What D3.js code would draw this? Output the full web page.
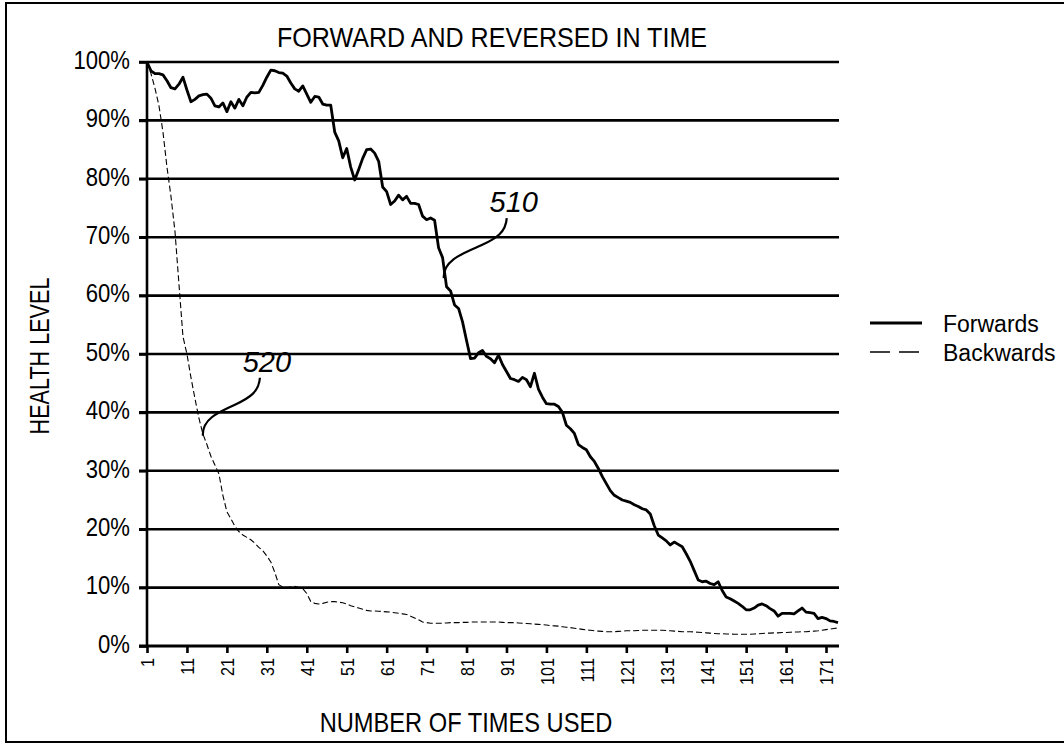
<!DOCTYPE html>
<html>
<head>
<meta charset="utf-8">
<title>Forward and reversed in time</title>
<script src="https://cdn.jsdelivr.net/npm/d3@7"></script>
<style>
  body { margin: 0; background: #fff; }
  svg text { font-family: "Liberation Sans", Arial, sans-serif; fill: #000; }
</style>
</head>
<body>
<svg id="chart" width="1064" height="746"></svg>
<script>
// health level (%) per use, uses 1..174
var forwards = [
  100, 98.5, 98.0, 98.0, 97.8, 96.8, 95.6, 95.4, 96.2, 97.4,
  95.2, 93.2, 93.6, 94.2, 94.4, 94.5, 93.8, 92.5, 92.3, 93.0,
  91.5, 93.2, 92.1, 93.6, 92.5, 94.0, 94.8, 94.7, 94.8, 96.0,
  97.4, 98.6, 98.5, 98.2, 98.1, 97.6, 96.4, 95.4, 95.0, 95.9,
  94.5, 93.1, 94.1, 94.0, 92.8, 92.6, 92.6, 88.0, 86.5, 83.6,
  85.2, 82.0, 79.8, 81.6, 83.5, 85.0, 85.1, 84.4, 83.0, 78.6,
  77.8, 75.6, 76.2, 77.2, 76.4, 77.0, 75.8, 75.8, 75.6, 73.6,
  73.0, 73.3, 72.9, 68.2, 66.5, 61.5, 60.8, 58.4, 57.8, 55.5,
  52.3, 49.2, 49.3, 50.2, 50.6, 49.6, 49.2, 48.5, 49.8, 48.2,
  47.0, 45.8, 45.6, 45.3, 46.0, 45.6, 44.4, 46.7, 44.0, 42.6,
  41.5, 41.4, 41.4, 41.0, 40.0, 37.8, 37.2, 36.4, 34.5, 34.0,
  33.6, 32.4, 31.6, 30.4, 29.0, 27.8, 26.6, 25.8, 25.4, 25.0,
  24.8, 24.6, 24.2, 23.9, 23.5, 23.3, 22.6, 20.6, 19.0, 18.5,
  18.0, 17.3, 17.8, 17.4, 17.0, 15.8, 14.5, 12.9, 11.3, 11.0,
  11.1, 10.7, 10.5, 11.0, 9.5, 8.4, 8.1, 7.7, 7.3, 6.8,
  6.2, 6.2, 6.5, 7.0, 7.2, 6.9, 6.4, 6.0, 5.1, 5.6,
  5.6, 5.6, 5.5, 6.0, 6.5, 5.8, 5.7, 5.6, 4.7, 4.9,
  4.7, 4.3, 4.2, 4.0
];

var backwards = [
  100, 98, 95.5, 92.5, 88, 82, 77, 71, 62, 53,
  50, 46, 42.4, 39, 36.3, 34.5, 32.5, 31, 29.5, 25.8,
  23, 21.8, 20.5, 19.6, 19, 18.6, 18.2, 17.6, 16.9, 16.3,
  15.4, 14.4, 12.6, 10.5, 10.1, 10.0, 10.1, 10.2, 10.0, 9.8,
  9.0, 7.6, 7.3, 7.2, 7.3, 7.5, 7.6, 7.6, 7.5, 7.4,
  7.2, 6.9, 6.7, 6.5, 6.3, 6.1, 6.0, 6.0, 5.95, 5.9,
  5.85, 5.8, 5.7, 5.6, 5.5, 5.4, 5.1, 4.8, 4.5, 4.1,
  4.0, 3.9, 3.9, 3.9, 3.9, 3.95, 4.0, 4.0, 4.0, 4.05,
  4.05, 4.1, 4.1, 4.1, 4.1, 4.1, 4.1, 4.1, 4.1, 4.05,
  4.0, 4.0, 4.0, 3.95, 3.9, 3.85, 3.8, 3.75, 3.7, 3.65,
  3.6, 3.5, 3.45, 3.4, 3.3, 3.2, 3.15, 3.05, 2.95, 2.85,
  2.75, 2.7, 2.6, 2.55, 2.5, 2.45, 2.45, 2.45, 2.5, 2.55,
  2.6, 2.6, 2.6, 2.65, 2.7, 2.7, 2.7, 2.7, 2.7, 2.7,
  2.65, 2.6, 2.55, 2.5, 2.45, 2.45, 2.45, 2.4, 2.35, 2.3,
  2.25, 2.2, 2.15, 2.1, 2.1, 2.05, 2.05, 2.0, 2.0, 2.0,
  2.0, 2.0, 2.05, 2.1, 2.15, 2.2, 2.2, 2.25, 2.25, 2.3,
  2.3, 2.35, 2.4, 2.4, 2.45, 2.45, 2.5, 2.55, 2.6, 2.7,
  2.8, 2.9, 3.0, 3.1
];

var xTicks = [1, 11, 21, 31, 41, 51, 61, 71, 81, 91, 101, 111, 121, 131, 141, 151, 161, 171];
var yTicks = [0, 10, 20, 30, 40, 50, 60, 70, 80, 90, 100];
var seriesNames = ["Forwards", "Backwards"];

// call-outs: number and the (use, level) point its leader touches
var calloutLabels = ["510", "520"];
var calloutUses = [75.3, 15.0];
var calloutLevels = [63, 36];

var svg = d3.select("#chart");
// note: "top" is taken by window.top, so use other names
var plotLeft = 147, plotRight = 839, plotTop = 62, plotBottom = 646;

var x = d3.scaleLinear().domain([1, 174.25]).range([plotLeft, plotRight]);
var y = d3.scaleLinear().domain([0, 100]).range([plotBottom, plotTop]);

// squeeze text horizontally, the drawing uses a condensed lettering
function narrow(sel, k) {
  sel.each(function() {
    var w = this.getComputedTextLength();
    d3.select(this).attr("textLength", w * k).attr("lengthAdjust", "spacingAndGlyphs");
  });
}

// frame around the whole figure
svg.append("rect")
  .attr("x", 6).attr("y", 3)
  .attr("width", 1080).attr("height", 739)
  .attr("fill", "none").attr("stroke", "#000").attr("stroke-width", 2);

// horizontal grid lines
svg.append("g").selectAll("line")
  .data(yTicks.filter(function(d) { return d > 0; }))
  .enter().append("line")
  .attr("x1", plotLeft - 8).attr("x2", plotRight)
  .attr("y1", function(d) { return y(d); })
  .attr("y2", function(d) { return y(d); })
  .attr("stroke", "#000").attr("stroke-width", 2.6);

// y axis
var yAxis = svg.append("g")
  .attr("transform", "translate(" + plotLeft + ",0)")
  .call(d3.axisLeft(y).tickValues(yTicks).tickSize(8).tickPadding(9)
    .tickFormat(function(d) { return d + "%"; }));
yAxis.select(".domain").remove();
yAxis.selectAll("line").attr("stroke-width", 2.6);
yAxis.selectAll("text").attr("font-size", 26).attr("dy", "0.24em")
  .style("font-family", "'Liberation Sans', sans-serif")
  .call(narrow, 0.85);
svg.append("line")
  .attr("x1", plotLeft).attr("x2", plotLeft).attr("y1", plotTop).attr("y2", plotBottom)
  .attr("stroke", "#000").attr("stroke-width", 2.6);

// x axis with rotated labels
var xAxis = svg.append("g")
  .attr("transform", "translate(0," + plotBottom + ")")
  .call(d3.axisBottom(x).tickValues(xTicks).tickSize(7).tickSizeOuter(0));
xAxis.select(".domain").remove();
xAxis.selectAll("line").attr("stroke-width", 2.6);
xAxis.selectAll("text")
  .attr("font-size", 19)
  .attr("y", 0).attr("x", -12).attr("dy", "0.36em")
  .attr("transform", "rotate(-90)")
  .style("text-anchor", "end")
  .style("font-family", "'Liberation Sans', sans-serif")
  .call(narrow, 0.85);
svg.append("line")
  .attr("x1", plotLeft - 8).attr("x2", plotRight).attr("y1", plotBottom).attr("y2", plotBottom)
  .attr("stroke", "#000").attr("stroke-width", 3.2);

// the two series
var line = d3.line()
  .x(function(d, i) { return x(i + 1); })
  .y(function(d) { return y(d); });

svg.append("path").datum(backwards)
  .attr("d", line)
  .attr("fill", "none").attr("stroke", "#000")
  .attr("stroke-width", 1.1).attr("stroke-dasharray", "6,3");

svg.append("path").datum(forwards)
  .attr("d", line)
  .attr("fill", "none").attr("stroke", "#000")
  .attr("stroke-width", 2.8).attr("stroke-linejoin", "round");

// call-out numbers with curved leaders (leader rises up-right from the point)
var leaderDx = [63, 57];
var leaderDy = [60, 58];
calloutLabels.forEach(function(label, i) {
  var px = x(calloutUses[i]), py = y(calloutLevels[i]);
  var sx = px + leaderDx[i], sy = py - leaderDy[i];
  var path = d3.path();
  path.moveTo(sx, sy);
  path.bezierCurveTo(sx - 1, sy + 14, sx - 10, sy + 20, sx - 25, sy + 27);
  path.bezierCurveTo(sx - 43, sy + 35, px - 1, sy + 42, px, py);
  svg.append("path").attr("d", path.toString())
    .attr("fill", "none").attr("stroke", "#000").attr("stroke-width", 2.2);
  svg.append("text")
    .attr("x", sx + 7).attr("y", sy - 6)
    .attr("text-anchor", "middle")
    .attr("font-size", 29).attr("font-style", "italic")
    .text(label);
});

// titles
svg.append("text")
  .attr("x", 492).attr("y", 47)
  .attr("text-anchor", "middle").attr("font-size", 28)
  .attr("textLength", 430).attr("lengthAdjust", "spacingAndGlyphs")
  .text("FORWARD AND REVERSED IN TIME");

svg.append("text")
  .attr("x", 466).attr("y", 732)
  .attr("text-anchor", "middle").attr("font-size", 28)
  .text("NUMBER OF TIMES USED")
  .call(narrow, 0.845);

svg.append("text")
  .attr("transform", "translate(49,356) rotate(-90)")
  .attr("text-anchor", "middle").attr("font-size", 27)
  .text("HEALTH LEVEL")
  .call(narrow, 0.8);

// legend
var legend = svg.append("g").attr("transform", "translate(870,323)");
seriesNames.forEach(function(name, i) {
  var row = legend.append("g").attr("transform", "translate(0," + (i * 29) + ")");
  row.append("line")
    .attr("x1", 0).attr("x2", 52)
    .attr("stroke", "#000")
    .attr("stroke-width", i === 0 ? 2.8 : 1.4)
    .attr("stroke-dasharray", i === 0 ? null : "20,9");
  row.append("text")
    .attr("x", 73).attr("y", 9)
    .attr("font-size", 23)
    .text(name);
});
</script>
</body>
</html>
